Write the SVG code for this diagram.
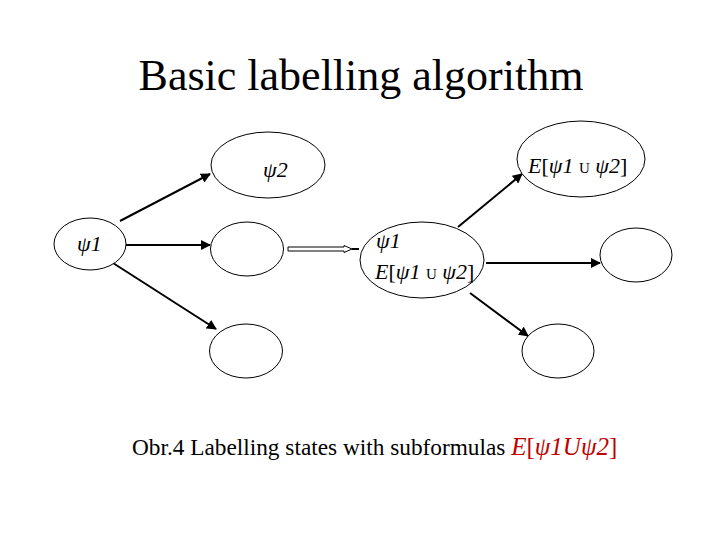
<svg xmlns="http://www.w3.org/2000/svg" width="720" height="540" viewBox="0 0 720 540">
<style>
.node ellipse{fill:#fff;stroke:#000;stroke-width:1}
text{font-family:"Liberation Serif","DejaVu Serif",serif;fill:#000}
.i{font-style:italic}
.edge{stroke:#000;stroke-width:2;fill:none;marker-end:url(#ah)}
</style>
<defs>
<marker id="ah" viewBox="0 0 10 10" refX="9" refY="5" markerWidth="5" markerHeight="5" orient="auto" markerUnits="strokeWidth">
<path d="M0,0 L10,5 L0,10 z" fill="#000"/>
</marker>
</defs>
<rect width="720" height="540" fill="#fff"/>
<text x="361" y="90" font-size="44" text-anchor="middle" font-family="Liberation Serif, serif">Basic labelling algorithm</text>

<g id="connectors">
<line class="edge" x1="120" y1="221" x2="210" y2="174"/>
<line class="edge" x1="126" y1="245" x2="210" y2="245"/>
<line class="edge" x1="113" y1="263" x2="216" y2="329"/>
<line class="edge" x1="458" y1="227" x2="522" y2="174"/>
<line class="edge" x1="486" y1="263" x2="600" y2="263"/>
<line class="edge" x1="470" y1="293" x2="528" y2="336"/>
<path d="M288,247 L344,247 L344,245.5 L352,249 L344,252.5 L344,251 L288,251 Z" fill="#fff" stroke="#000" stroke-width="1"/>
<line x1="352" y1="249" x2="359" y2="249" stroke="#000" stroke-width="2"/>
</g>

<g id="n-psi2" class="node">
<ellipse cx="268" cy="165" rx="57" ry="33"/>
<text class="i" x="263" y="177" font-size="22">ψ2</text>
</g>
<g id="n-psi1" class="node">
<ellipse cx="90" cy="244" rx="36" ry="26"/>
<text class="i" x="77" y="251" font-size="22">ψ1</text>
</g>
<g id="n-mid" class="node">
<ellipse cx="247" cy="249" rx="36.5" ry="27"/>
</g>
<g id="n-low" class="node">
<ellipse cx="246" cy="351" rx="36.5" ry="27"/>
</g>
<g id="n-center" class="node">
<ellipse cx="422" cy="260" rx="62" ry="38"/>
<text class="i" x="376" y="248" font-size="22">ψ1</text>
<text x="375" y="279" font-size="22"><tspan class="i">E</tspan>[<tspan class="i">ψ1</tspan> <tspan font-size="15">U</tspan> <tspan class="i">ψ2</tspan>]</text>
</g>
<g id="n-eu" class="node">
<ellipse cx="581" cy="159" rx="64" ry="38"/>
<text x="528" y="173" font-size="22"><tspan class="i">E</tspan>[<tspan class="i">ψ1</tspan> <tspan font-size="15">U</tspan> <tspan class="i">ψ2</tspan>]</text>
</g>
<g id="n-right" class="node">
<ellipse cx="636" cy="255" rx="36" ry="27"/>
</g>
<g id="n-lowright" class="node">
<ellipse cx="558" cy="351" rx="36" ry="27"/>
</g>

<text x="132" y="455" font-size="23.3" font-family="Liberation Serif, serif">Obr.4 Labelling states with subformulas <tspan fill="#C00000" font-size="25"><tspan class="i">E</tspan>[<tspan class="i">ψ1</tspan><tspan class="i">U</tspan><tspan class="i">ψ2</tspan>]</tspan></text>
</svg>
